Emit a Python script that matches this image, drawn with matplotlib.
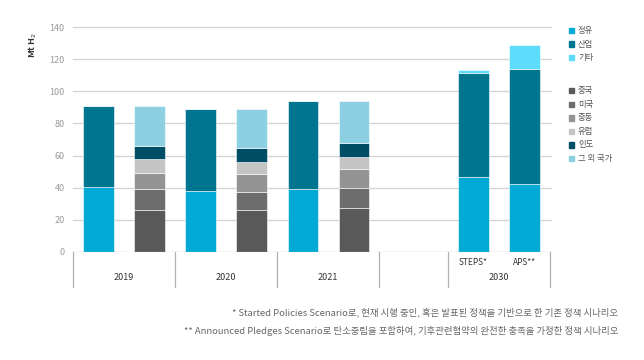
import numpy as np
import matplotlib.pyplot as plt
from matplotlib.transforms import blended_transform_factory
from matplotlib.patches import Rectangle

plt.rcParams['font.family'] = ['Noto Sans CJK KR', 'DejaVu Sans']

# data (Mt H2)
years = ['2019', '2020', '2021']
scenarios = ['STEPS*', 'APS**']
sector_names = ['정유', '산업', '기타']
country_names = ['중국', '미국', '중동', '유럽', '인도', '그 외 국가']

# sector bars: 2019, 2020, 2021, STEPS 2030, APS 2030
refining = [40.2, 37.9, 39.1, 46.8, 42.4]
industry = [51.0, 51.1, 55.1, 64.9, 71.8]
other_use = [0, 0, 0, 1.6, 14.8]

# country bars: 2019, 2020, 2021
china = [26.2, 26.2, 27.1]
usa = [12.7, 11.0, 12.4]
middle_east = [10.4, 11.1, 11.9]
europe = [8.5, 7.7, 7.9]
india = [7.9, 8.5, 8.5]
rest = [25.0, 24.5, 26.4]

sector_colors = ['#00aad4', '#00758f', '#5cdcfa']
country_colors = ['#595959', '#6d6d6d', '#949494', '#c4c4c4', '#004e66', '#8dd0e2']

fig = plt.figure(figsize=(6.44, 3.6), dpi=100)
ax = fig.add_axes([73 / 644, 1 - 251.7 / 360, (551 - 73) / 644, 224.4 / 360])

sector_x = [0, 2, 4, 7.35, 8.35]
country_x = [1, 3, 5]
w = 0.59

bottom = np.zeros(len(sector_x))
for vals, c in zip([refining, industry, other_use], sector_colors):
    ax.bar(sector_x, vals, w, bottom=bottom, color=c, edgecolor='white', linewidth=0.4, zorder=3)
    bottom += np.array(vals)

bottom = np.zeros(len(country_x))
for vals, c in zip([china, usa, middle_east, europe, india, rest], country_colors):
    ax.bar(country_x, vals, w, bottom=bottom, color=c, edgecolor='white', linewidth=0.4, zorder=3)
    bottom += np.array(vals)

ax.set_xlim(-0.5, 8.87)
ax.set_ylim(0, 140)
for s in ax.spines.values():
    s.set_visible(False)
ax.set_xticks([])
ax.set_yticks(range(0, 141, 20))
ax.tick_params(axis='y', length=0, labelsize=6.5, labelcolor='#9a9a9a', pad=6)
for v in range(20, 141, 20):
    ax.axhline(v, color='#d2d2d2', linewidth=0.9, zorder=1, clip_on=False)
ax.axhline(0, color='#b0b0b0', linewidth=0.9, zorder=4)

fig.text(33 / 644, 1 - 45 / 360, 'Mt H$_2$', rotation=90, ha='center', va='center',
         fontsize=6.5, fontweight='bold', color='#333333')

# category box below the axis
tr = blended_transform_factory(ax.transData, ax.transAxes)
for xs in [-0.5, 1.5, 3.5, 5.5, 6.85, 8.85]:
    ax.plot([xs, xs], [0, -0.157], transform=tr, color='#b0b0b0', linewidth=0.9, clip_on=False)
for i, yl in enumerate(years):
    ax.text(2 * i + 0.5, -0.117, yl, transform=tr, ha='center', va='center', fontsize=6.5, color='#333333')
ax.text(7.85, -0.117, '2030', transform=tr, ha='center', va='center', fontsize=6.5, color='#333333')
for xs, sl in zip(sector_x[3:], scenarios):
    ax.text(xs, -0.046, sl, transform=tr, ha='center', va='center', fontsize=6, color='#333333')

# legend
leg_y = [30.7, 44, 57.7, 90.7, 104.3, 118, 131.3, 145, 158.7]
for yy, name, c in zip(leg_y, sector_names + country_names, sector_colors + country_colors):
    fig.patches.append(Rectangle((569 / 644, 1 - (yy + 2.6) / 360), 5.2 / 644, 5.2 / 360,
                                 transform=fig.transFigure, color=c))
    fig.text(578 / 644, 1 - yy / 360, name, ha='left', va='center', fontsize=6, color='#555555')

# footnotes
fig.text(618 / 644, 1 - 312 / 360, '* Started Policies Scenario로, 현재 시행 중인, 혹은 발표된 정책을 기반으로 한 기존 정책 시나리오',
         ha='right', va='center', fontsize=6.75, color='#666666')
fig.text(618 / 644, 1 - 331 / 360, '** Announced Pledges Scenario로 탄소중립을 포함하여, 기후관련협약의 완전한 충족을 가정한 정책 시나리오',
         ha='right', va='center', fontsize=6.75, color='#666666')

fig.savefig('out.png', dpi=100)
